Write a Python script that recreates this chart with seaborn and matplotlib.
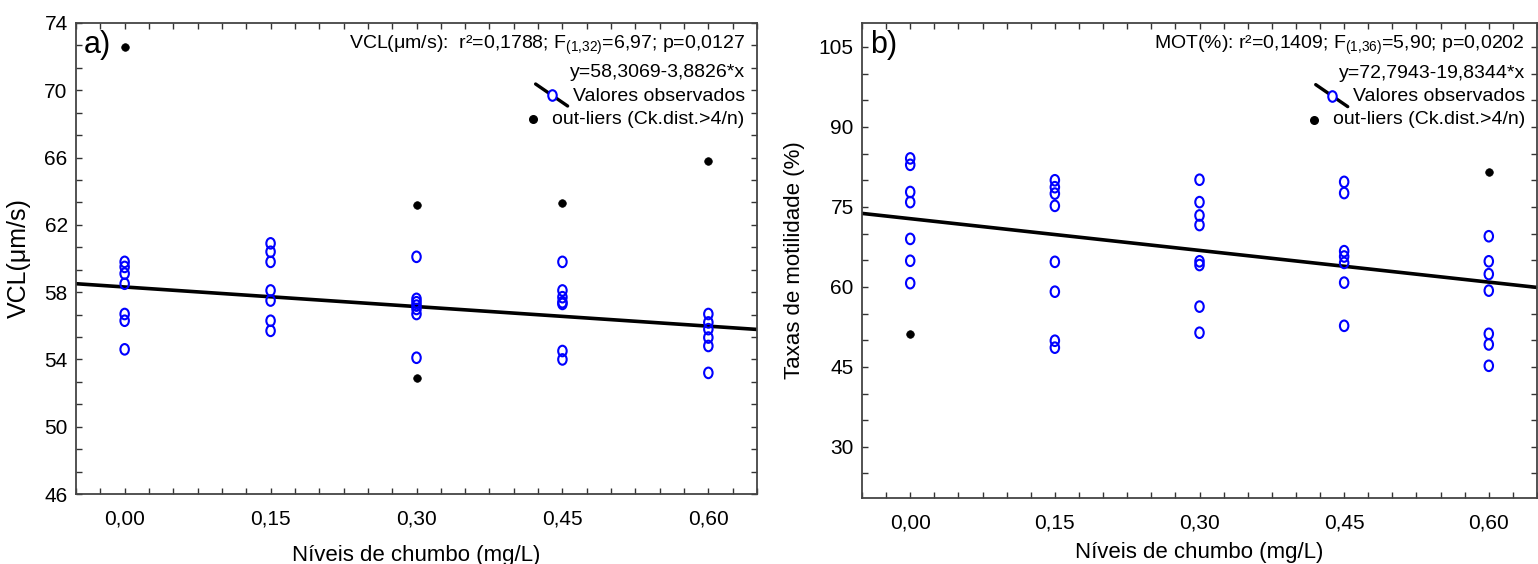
import numpy as np
import pandas as pd
import matplotlib
matplotlib.use("Agg")
import matplotlib.pyplot as plt
from matplotlib.ticker import MultipleLocator, AutoMinorLocator, FixedLocator
from matplotlib.markers import MarkerStyle
from matplotlib.transforms import Affine2D
import seaborn as sns

# ---------------- data ----------------
levels = [0.00, 0.15, 0.30, 0.45, 0.60]
xtick_labels = ["0,00", "0,15", "0,30", "0,45", "0,60"]
vcl_yticks = [46, 50, 54, 58, 62, 66, 70, 74]
mot_yticks = [30, 45, 60, 75, 90, 105]

# Panel a: VCL (µm/s) observed values per lead level
vcl_000 = [59.8, 59.5, 59.1, 58.5, 56.7, 56.3, 54.6]
vcl_015 = [60.9, 60.4, 59.8, 58.1, 57.5, 56.3, 55.7]
vcl_030 = [60.1, 57.6, 57.4, 57.2, 57.0, 56.7, 54.1]
vcl_045 = [59.8, 58.1, 57.7, 57.4, 57.3, 54.5, 54.0]
vcl_060 = [56.7, 56.2, 55.8, 55.3, 54.8, 53.2]
vcl_out_x = [0.00, 0.30, 0.30, 0.45, 0.60]
vcl_out_y = [72.6, 63.2, 52.9, 63.3, 65.8]
vcl_intercept, vcl_slope = 58.3069, -3.8826

# Panel b: motility (%) observed values per lead level
mot_000 = [84.1, 82.9, 77.8, 75.9, 69.0, 64.9, 60.7]
mot_015 = [80.0, 78.7, 77.5, 75.2, 64.7, 59.1, 49.9, 48.6]
mot_030 = [80.1, 75.9, 73.4, 71.6, 64.8, 64.1, 56.3, 51.4]
mot_045 = [79.7, 77.6, 66.7, 65.7, 64.5, 60.8, 52.7]
mot_060 = [69.5, 64.8, 62.4, 59.3, 51.2, 49.2, 45.2]
mot_out_x = [0.00, 0.60]
mot_out_y = [51.1, 81.6]
mot_intercept, mot_slope = 72.7943, -19.8344


def long_df(groups):
    xs, ys = [], []
    for lv, vals in zip(levels, groups):
        xs += [lv] * len(vals)
        ys += list(vals)
    return pd.DataFrame({"x": xs, "y": ys})


vcl_df = long_df([vcl_000, vcl_015, vcl_030, vcl_045, vcl_060])
mot_df = long_df([mot_000, mot_015, mot_030, mot_045, mot_060])
vcl_out = pd.DataFrame({"x": vcl_out_x, "y": vcl_out_y})
mot_out = pd.DataFrame({"x": mot_out_x, "y": mot_out_y})

# ---------------- style ----------------
sns.set_theme(style="white")
plt.rcParams["font.family"] = ["Liberation Sans", "DejaVu Sans"]
plt.rcParams["mathtext.fontset"] = "custom"
plt.rcParams["mathtext.rm"] = "Liberation Sans"
plt.rcParams["mathtext.it"] = "Liberation Sans:italic"
plt.rcParams["mathtext.default"] = "regular"
plt.rcParams["text.color"] = "black"
plt.rcParams["axes.labelcolor"] = "black"
plt.rcParams["xtick.labelcolor"] = "black"
plt.rcParams["ytick.labelcolor"] = "black"

W, H = 1538, 564
fig = plt.figure(figsize=(W / 100, H / 100), dpi=100)
ax_a = fig.add_axes([76 / W, 1 - 494 / H, (757 - 76) / W, (494 - 23) / H])
ax_b = fig.add_axes([862 / W, 1 - 498 / H, (1537 - 862) / W, (498 - 23) / H])

XLIM = (-0.05, 0.65)
blue = "#0000FF"
circ = MarkerStyle("o", transform=Affine2D().scale(0.8, 1.0))
TXT = 14


def draw_panel(ax, df, out, b0, b1, ylim, yticks, ylabel, ylabel_size, letter,
               stats, eq, xlabelpad):
    xl = np.array(XLIM)
    line_df = pd.DataFrame({"x": xl, "y": b0 + b1 * xl})
    sns.lineplot(data=line_df, x="x", y="y", ax=ax, color="black", lw=2.6,
                 zorder=2)
    sns.scatterplot(data=df, x="x", y="y", ax=ax, marker=circ, s=58,
                    facecolors="none", edgecolor=blue, linewidth=1.5,
                    zorder=3)
    sns.scatterplot(data=out, x="x", y="y", ax=ax, marker="o", s=30,
                    color="black", edgecolor="black", linewidth=0.5, zorder=3)

    ax.set_xlim(*XLIM)
    ax.set_ylim(*ylim)
    ax.set_xticks(levels)
    ax.set_xticklabels(xtick_labels)
    ax.xaxis.set_minor_locator(MultipleLocator(0.025))
    ax.yaxis.set_major_locator(FixedLocator(yticks))
    ax.yaxis.set_minor_locator(AutoMinorLocator(3))
    ax.tick_params(axis="both", which="both", direction="in", top=True,
                   right=True, bottom=True, left=True, color="#333333",
                   length=4, width=1.0)
    ax.tick_params(axis="x", which="major", labelsize=15, pad=11)
    ax.tick_params(axis="y", which="major", labelsize=15, pad=6)
    for sp in ax.spines.values():
        sp.set_color("#444444")
        sp.set_linewidth(1.3)
    ax.set_xlabel("Níveis de chumbo (mg/L)", fontsize=16, labelpad=xlabelpad)
    ax.set_ylabel(ylabel, fontsize=ylabel_size, labelpad=10)

    ax.text(0.012, 0.953, letter, transform=ax.transAxes, fontsize=22,
            ha="left", va="center")
    ax.text(0.982, 0.953, stats, transform=ax.transAxes, fontsize=TXT,
            ha="right", va="center")
    ax.text(0.982, 0.894, eq, transform=ax.transAxes, fontsize=TXT,
            ha="right", va="center")
    t_obs = ax.text(0.982, 0.845, "Valores observados",
                    transform=ax.transAxes, fontsize=TXT, ha="right",
                    va="center")
    t_out = ax.text(0.982, 0.796, "out-liers (Ck.dist.>4/n)",
                    transform=ax.transAxes, fontsize=TXT, ha="right",
                    va="center")
    return t_obs, t_out


ta = draw_panel(ax_a, vcl_df, vcl_out, vcl_intercept, vcl_slope, (46, 74),
                vcl_yticks, "VCL(μm/s)", 18, "a)",
                "VCL(μm/s):  r²=0,1788; F$_{(1{,}32)}$=6,97; p=0,0127",
                "y=58,3069-3,8826*x", 12)
tb = draw_panel(ax_b, mot_df, mot_out, mot_intercept, mot_slope, (20.4, 109.5),
                mot_yticks, "Taxas de motilidade (%)", 16, "b)",
                "MOT(%): r²=0,1409; F$_{(1{,}36)}$=5,90; p=0,0202",
                "y=72,7943-19,8344*x", 7)

# legend glyphs placed just left of the legend texts
fig.canvas.draw()
renderer = fig.canvas.get_renderer()
for ax, (t_obs, t_out) in ((ax_a, ta), (ax_b, tb)):
    inv = ax.transAxes.inverted()
    bb = t_obs.get_window_extent(renderer)
    cx, cy = bb.x0 - 21, (bb.y0 + bb.y1) / 2 + 1
    p = inv.transform([[cx - 16, cy + 11], [cx + 16, cy - 11], [cx, cy]])
    ax.plot(p[:2, 0], p[:2, 1], color="black", lw=2.4,
            transform=ax.transAxes, clip_on=False, zorder=4)
    ax.scatter([p[2, 0]], [p[2, 1]], marker=circ, s=58, facecolors="white",
               edgecolors=blue, linewidths=1.5, transform=ax.transAxes,
               clip_on=False, zorder=5)
    bb2 = t_out.get_window_extent(renderer)
    q = inv.transform([[bb2.x0 - 19, (bb2.y0 + bb2.y1) / 2]])
    ax.scatter([q[0, 0]], [q[0, 1]], marker="o", s=30, color="black",
               transform=ax.transAxes, clip_on=False, zorder=5)

fig.savefig("out.png", dpi=100)
